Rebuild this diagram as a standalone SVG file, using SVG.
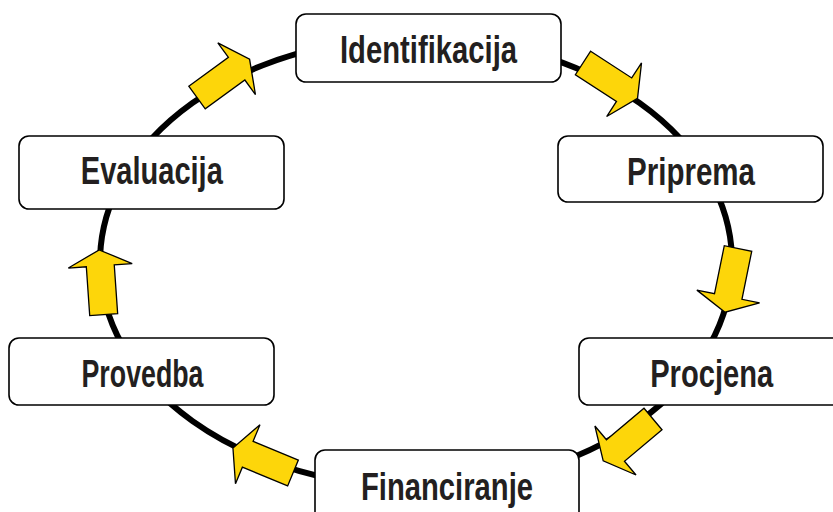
<svg xmlns="http://www.w3.org/2000/svg" width="833" height="512" viewBox="0 0 833 512">
<style>
.box{fill:#fff;stroke:#000;stroke-width:1.6}
.lbl{font-family:"Liberation Sans",Arial,sans-serif;font-weight:bold;font-size:38.5px;fill:#231F20;text-anchor:middle}
.ring{fill:none;stroke:#000;stroke-width:6}
.arr{fill:#FDD60A;stroke:#000;stroke-width:1.3;stroke-linejoin:miter}
</style>
<defs>
<polygon id="blk" points="0,-14 49,-14 49,-32 65,0 49,32 49,14 0,14"/>
</defs>
<rect width="833" height="512" fill="#fff"/>
<g id="connectors">
<ellipse class="ring" cx="416" cy="262" rx="316" ry="225"/>
<use href="#blk" class="arr" transform="translate(583,63) rotate(33)"/>
<use href="#blk" class="arr" transform="translate(738,248.5) rotate(101.5)"/>
<use href="#blk" class="arr" transform="translate(653,419) rotate(140)"/>
<use href="#blk" class="arr" transform="translate(293,473) rotate(-157.5)"/>
<use href="#blk" class="arr" transform="translate(103.7,314.7) rotate(-94)"/>
<use href="#blk" class="arr" transform="translate(197,97.5) rotate(-36)"/>
</g>
<g id="node-identifikacija">
<rect class="box" x="296" y="14" width="265" height="68" rx="10"/>
<text class="lbl" x="428.5" y="63.3" textLength="177" lengthAdjust="spacingAndGlyphs">Identifikacija</text>
</g>
<g id="node-priprema">
<rect class="box" x="558" y="136" width="265" height="66" rx="10"/>
<text class="lbl" x="691" y="185" textLength="128" lengthAdjust="spacingAndGlyphs">Priprema</text>
</g>
<g id="node-procjena">
<rect class="box" x="579" y="338" width="265" height="67" rx="10"/>
<text class="lbl" x="711.7" y="386.7" textLength="123" lengthAdjust="spacingAndGlyphs">Procjena</text>
</g>
<g id="node-financiranje">
<rect class="box" x="315" y="450" width="264" height="72" rx="10"/>
<text class="lbl" x="447" y="500" textLength="172" lengthAdjust="spacingAndGlyphs">Financiranje</text>
</g>
<g id="node-provedba">
<rect class="box" x="9" y="338" width="265" height="67" rx="10"/>
<text class="lbl" x="142.5" y="386.7" textLength="122" lengthAdjust="spacingAndGlyphs">Provedba</text>
</g>
<g id="node-evaluacija">
<rect class="box" x="19" y="136" width="265" height="73" rx="10"/>
<text class="lbl" x="151.8" y="184" textLength="142" lengthAdjust="spacingAndGlyphs">Evaluacija</text>
</g>
</svg>
